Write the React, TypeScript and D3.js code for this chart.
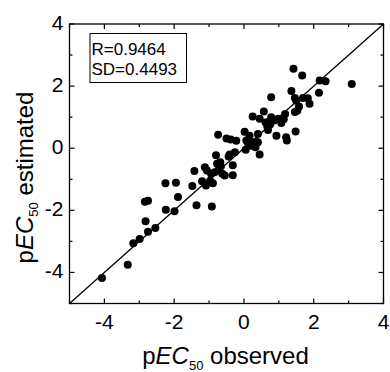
import React, { useEffect, useRef } from "react";
import * as d3 from "d3";

// observed vs estimated pEC50 values
const observed = [
  -4.07, -3.33, -3.17, -2.99, -2.82, -2.84, -2.75, -2.75, -2.54, -2.25,
  -2.24, -1.95, -1.99, -1.89, -1.48, -1.42, -1.36, -1.2, -1.12, -1.09,
  -1.06, -0.92, -0.97, -0.89, -0.84, -0.8, -0.74, -0.77, -0.68, -0.62,
  -0.66, -0.5, -0.38, -0.22, -0.44, -0.32, -0.32, -0.26, 0.02, 0.05,
  0.12, 0.16, 0.25, 0.2, 0.28, 0.33, 0.4, 0.45, 0.4, 0.45,
  0.57, 0.62, 0.67, 0.69, 0.78, 0.78, 0.75, 0.86, 0.93, 0.98,
  1.07, 1.14, 1.18, 1.21, 1.23, 1.36, 1.42, 1.46, 1.48, 1.46,
  1.58, 1.67, 1.69, 1.83, 1.88, 2.15, 2.17, 2.34, 3.09, 1.53,
  1.5, -0.94, -0.72, -0.55, -0.41, 0.07, 0.36, 0.72,
];
const estimated = [
  -4.18, -3.75, -3.06, -2.92, -2.35, -1.72, -1.69, -2.69, -2.57, -1.13,
  -1.98, -1.11, -2.03, -1.57, -1.22, -0.73, -1.84, -1.06, -0.61, -1.2,
  -0.72, -1.88, -1.05, -1.13, -0.77, -0.23, 0.43, -0.5, -0.45, -0.82,
  -0.58, 0.31, 0.28, 0.24, -0.27, -0.55, -0.87, -0.13, 0.53, -0.05,
  0.15, 0.4, 1.02, 0.08, 0.19, 0.03, 0.46, -0.2, 0.19, 0.95,
  1.18, 0.83, 0.7, 0.59, 1.64, 1.0, 0.76, 0.89, 0.4, 0.95,
  0.81, 0.93, 1.1, 0.35, 0.25, 1.84, 2.56, 1.17, 0.54, 1.62,
  1.34, 2.34, 1.62, 1.61, 1.43, 1.79, 2.18, 2.16, 2.07, 1.21,
  1.53, -0.83, -0.69, -0.88, -0.2, 0.25, 0.19, 0.85,
];
const majorTicks = [-4, -2, 0, 2, 4];
const minorTicks = [-5, -3, -1, 1, 3];
const statLines = ["R=0.9464", "SD=0.4493"];

const App = () => {
  const svgRef = useRef<SVGSVGElement>(null);

  useEffect(() => {
    const width = 390;
    const height = 372;
    const left = 69.5, right = 383.5, top = 24, bottom = 303.5;

    const svg = d3.select(svgRef.current);
    svg.selectAll("*").remove();
    svg.attr("width", width).attr("height", height);

    const x = d3.scaleLinear().domain([-5, 4]).range([left, right]);
    const y = d3.scaleLinear().domain([-5, 4]).range([bottom, top]);
    const font = "Liberation Sans, Arial, sans-serif";

    // points
    svg
      .append("g")
      .selectAll("circle")
      .data(observed.map((o, i) => [o, estimated[i]]))
      .join("circle")
      .attr("cx", (d) => x(d[0]))
      .attr("cy", (d) => y(d[1]))
      .attr("r", 4)
      .attr("fill", "#000");

    // identity line
    svg
      .append("line")
      .attr("x1", x(-5))
      .attr("y1", y(-5))
      .attr("x2", x(4))
      .attr("y2", y(4))
      .attr("stroke", "#000")
      .attr("stroke-width", 1.3);

    // frame
    svg
      .append("rect")
      .attr("x", left)
      .attr("y", top)
      .attr("width", right - left)
      .attr("height", bottom - top)
      .attr("fill", "none")
      .attr("stroke", "#000")
      .attr("stroke-width", 1.3);

    // inward ticks on every side
    const tickSize = (major: boolean) => (major ? 5 : 3);
    const ticks = [...majorTicks.map((v) => [v, 1]), ...minorTicks.map((v) => [v, 0])];
    const tg = svg.append("g").attr("stroke", "#000").attr("stroke-width", 1.2);
    ticks.forEach(([v, m]) => {
      const s = tickSize(m === 1);
      tg.append("line").attr("x1", x(v)).attr("x2", x(v)).attr("y1", bottom).attr("y2", bottom - s);
      tg.append("line").attr("x1", x(v)).attr("x2", x(v)).attr("y1", top).attr("y2", top + s);
      tg.append("line").attr("y1", y(v)).attr("y2", y(v)).attr("x1", left).attr("x2", left + s);
      tg.append("line").attr("y1", y(v)).attr("y2", y(v)).attr("x1", right).attr("x2", right - s);
    });

    // tick labels
    svg
      .append("g")
      .selectAll("text")
      .data(majorTicks)
      .join("text")
      .attr("x", (d) => x(d))
      .attr("y", bottom + 25)
      .attr("text-anchor", "middle")
      .attr("font-family", font)
      .attr("font-size", 21)
      .text((d) => String(d));

    svg
      .append("g")
      .selectAll("text")
      .data(majorTicks)
      .join("text")
      .attr("x", left - 6)
      .attr("y", (d) => y(d) + 5.8)
      .attr("text-anchor", "end")
      .attr("font-family", font)
      .attr("font-size", 21)
      .text((d) => String(d));

    // axis titles
    const title = (g: d3.Selection<SVGTextElement, unknown, null, undefined>, rest: string) => {
      g.append("tspan").text("p");
      g.append("tspan").attr("font-style", "italic").text("EC");
      g.append("tspan").attr("font-size", 13).attr("dy", 5.5).text("50");
      g.append("tspan").attr("dy", -5.5).text(rest);
    };

    const xt = svg
      .append("text")
      .attr("x", 225.5)
      .attr("y", 364)
      .attr("text-anchor", "middle")
      .attr("font-family", font)
      .attr("font-size", 24);
    title(xt as any, " observed");

    const yt = svg
      .append("text")
      .attr("transform", "translate(32.5,177.5) rotate(-90)")
      .attr("text-anchor", "middle")
      .attr("font-family", font)
      .attr("font-size", 24);
    title(yt as any, " estimated");

    // stats box
    svg
      .append("rect")
      .attr("x", 90)
      .attr("y", 33.5)
      .attr("width", 96.5)
      .attr("height", 49)
      .attr("fill", "#fff")
      .attr("stroke", "#000")
      .attr("stroke-width", 1);

    svg
      .append("g")
      .selectAll("text")
      .data(statLines)
      .join("text")
      .attr("x", 91.5)
      .attr("y", (d, i) => 55 + i * 19.5)
      .attr("font-family", font)
      .attr("font-size", 17)
      .text((d) => d);
  }, []);

  return <svg ref={svgRef} style={{ position: "absolute", left: 0, top: 0 }}></svg>;
};

export default App;
